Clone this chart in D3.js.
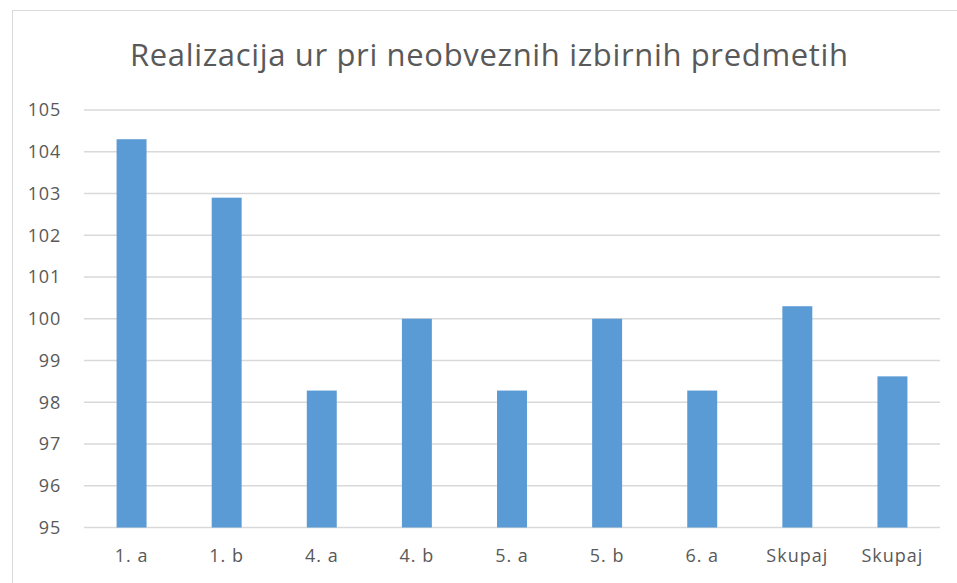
<!DOCTYPE html>
<html><head><meta charset="utf-8">
<script src="https://cdn.jsdelivr.net/npm/d3@7"></script>
<style>body{margin:0;background:#fff;}svg{display:block;font-family:"Open Sans",Lato,sans-serif;}</style>
</head><body><svg id="c" width="957" height="583"></svg>
<script>
const categories = ["1. a","1. b","4. a","4. b","5. a","5. b","6. a","Skupaj","Skupaj"];
const values = [104.3, 102.9, 98.28, 100, 98.28, 100, 98.28, 100.3, 98.62];
const yTicks = [95,96,97,98,99,100,101,102,103,104,105];
const title = "Realizacija ur pri neobveznih izbirnih predmetih";

(function(){
const svg = d3.select("#c");
svg.append("rect").attr("x",12.5).attr("y",10.5).attr("width",960).attr("height",600)
  .attr("fill","#fff").attr("stroke","#d9d9d9").attr("stroke-width",1);

const pLeft=84, pRight=940, pTop=110, pBottom=527.5;
const x = d3.scaleBand().domain(d3.range(categories.length)).range([pLeft,pRight]).paddingInner(0.685).paddingOuter(0.3425);
const y = d3.scaleLinear().domain([95,105]).range([pBottom,pTop]);

svg.append("g").selectAll("line").data(yTicks).join("line")
  .attr("x1",pLeft).attr("x2",pRight).attr("y1",d=>y(d)).attr("y2",d=>y(d))
  .attr("stroke","#d9d9d9").attr("stroke-width",1.5);

const yAxis = svg.append("g").attr("transform",`translate(${pLeft},0)`)
  .call(d3.axisLeft(y).tickValues(yTicks).tickSize(0).tickPadding(23));
yAxis.select(".domain").remove();
yAxis.selectAll("text").attr("fill","#595959").attr("font-size",18)
  .attr("font-family","'Open Sans',sans-serif").attr("letter-spacing",0.8);

svg.append("g").selectAll("rect").data(values).join("rect")
  .attr("x",(d,i)=>x(i)).attr("width",x.bandwidth())
  .attr("y",d=>y(d)).attr("height",d=>y(95)-y(d))
  .attr("fill","#5b9bd5");

const xAxis = svg.append("g").attr("transform",`translate(0,${pBottom})`)
  .call(d3.axisBottom(x).tickFormat(i=>categories[i]).tickSize(0).tickPadding(22));
xAxis.select(".domain").remove();
xAxis.selectAll("text").attr("fill","#595959").attr("font-size",18)
  .attr("font-family","'Open Sans',sans-serif").attr("letter-spacing",1);

svg.append("text").attr("x",489).attr("y",66).attr("text-anchor","middle")
  .attr("fill","#595959").attr("font-size",31)
  .attr("textLength",718).attr("lengthAdjust","spacing").text(title);
})();
</script></body></html>
